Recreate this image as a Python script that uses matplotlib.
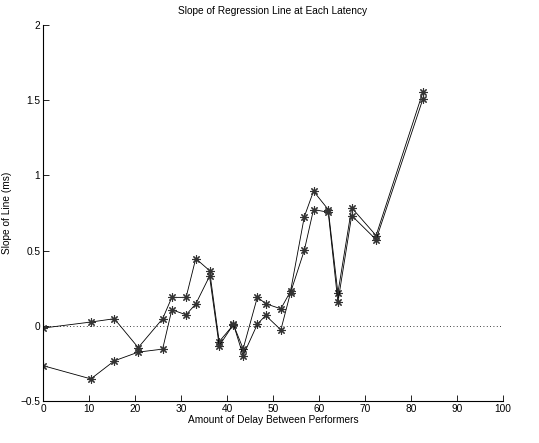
import matplotlib
matplotlib.use('Agg')
import matplotlib.pyplot as plt
import numpy as np

plt.rcParams['font.family'] = ['Liberation Sans', 'DejaVu Sans']

# delay values
delay = [0, 10.4, 15.5, 20.7, 26.0, 28.0, 31.1, 33.2, 36.2, 38.3, 41.4, 43.5,
         46.6, 48.4, 51.7, 53.8, 56.8, 58.8, 62.0, 64.1, 67.1, 72.4, 82.6]

# slope, first set
slope_a = [-0.015, 0.025, 0.047, -0.145, 0.047, 0.189, 0.189, 0.447, 0.367, -0.105, 0.007, -0.153,
           0.191, 0.147, 0.113, 0.229, 0.725, 0.895, 0.773, 0.218, 0.785, 0.600, 1.556]

# slope, second set
slope_b = [-0.265, -0.353, -0.233, -0.175, -0.155, 0.107, 0.073, 0.145, 0.330, -0.133, 0.010, -0.198,
           0.011, 0.069, -0.027, 0.220, 0.502, 0.773, 0.755, 0.158, 0.733, 0.573, 1.510]

fig = plt.figure(figsize=(5.39, 4.43), dpi=100)
ax = fig.add_axes([0.0798, 0.0948, 0.8535, 0.8488])

# asterisk marker like matlab '*'
star = (8, 2, 0)
ax.plot(delay, slope_a, color='k', lw=0.6, marker=star, ms=6, mew=0.8, mec='#333333')
ax.plot(delay, slope_b, color='k', lw=0.6, marker=star, ms=6, mew=0.8, mec='#333333')
ax.plot([0, 100], [0, 0], color='k', lw=0.6, linestyle=(0, (1, 3)))

ax.set_xlim(0, 100)
ax.set_ylim(-0.5, 2)
ax.set_xticks(np.arange(0, 101, 10))
ax.set_yticks([-0.5, 0, 0.5, 1, 1.5, 2])
ax.set_yticklabels(['\u22120.5', '0', '0.5', '1', '1.5', '2'])

ax.spines['top'].set_visible(False)
ax.spines['right'].set_visible(False)
ax.spines['left'].set_linewidth(0.8)
ax.spines['bottom'].set_linewidth(0.8)
ax.tick_params(direction='in', length=4, width=0.6, labelsize=7.3, pad=2)

ax.set_title('Slope of Regression Line at Each Latency', fontsize=7.3, pad=8)
ax.set_xlabel('Amount of Delay Between Performers', fontsize=7.3, labelpad=1)
ax.set_ylabel('Slope of Line (ms)', fontsize=7.3, labelpad=6)

plt.savefig('out.png', dpi=100)
